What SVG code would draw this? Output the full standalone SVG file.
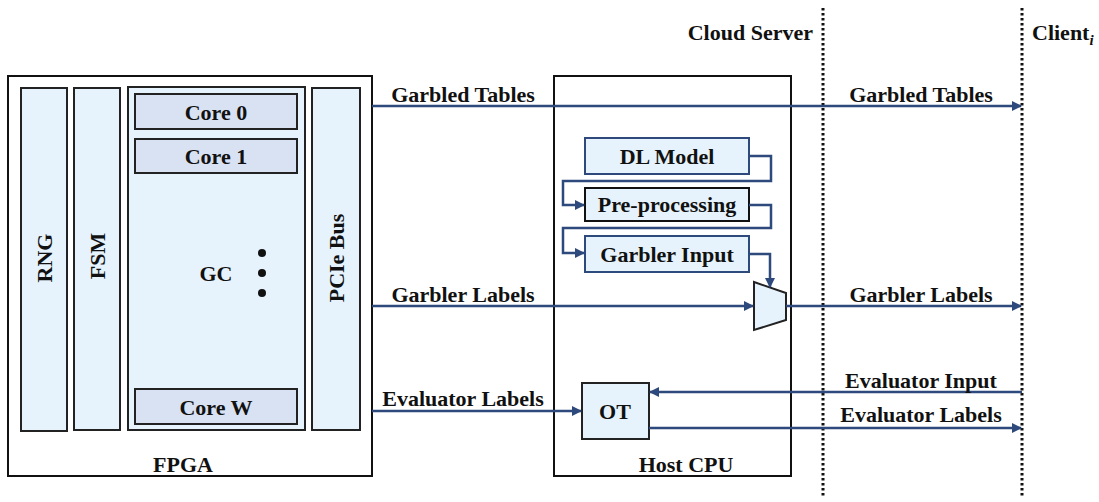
<svg xmlns="http://www.w3.org/2000/svg" width="1099" height="502" viewBox="0 0 1099 502">
<style>
text{font-family:"Liberation Serif","Times New Roman",serif;font-weight:bold;font-size:22px;fill:#111}
.box{fill:#fff;stroke:#111;stroke-width:2}
.blk{fill:#e6f3fd;stroke:#222;stroke-width:2}
.core{fill:#d9e2f3;stroke:#222;stroke-width:2}
.conn{fill:none;stroke:#2e4a7d;stroke-width:2.5}
.dot{fill:none;stroke:#111;stroke-width:3;stroke-dasharray:2.5 2.5}
</style>
<defs>
<marker id="ah" viewBox="0 0 10 10" refX="9" refY="5" markerWidth="10" markerHeight="10" markerUnits="userSpaceOnUse" orient="auto">
<path d="M0,0 L10,5 L0,10 z" fill="#2e4a7d"/>
</marker>
</defs>
<g id="boundaries">
<line class="dot" x1="823" y1="8" x2="823" y2="498"/>
<line class="dot" x1="1022" y1="8" x2="1022" y2="498"/>
<text x="813" y="40" text-anchor="end">Cloud Server</text>
<text x="1032" y="40">Client<tspan font-style="italic" font-size="15" dy="5">i</tspan></text>
</g>
<g id="fpga">
<rect class="box" x="8" y="76" width="364" height="400"/>
<text x="183" y="472" text-anchor="middle">FPGA</text>
</g>
<g id="rng">
<rect class="blk" x="21" y="88" width="46" height="343"/>
<text transform="translate(52,258) rotate(-90)" text-anchor="middle">RNG</text>
</g>
<g id="fsm">
<rect class="blk" x="74" y="88" width="46" height="342"/>
<text transform="translate(105,256) rotate(-90)" text-anchor="middle">FSM</text>
</g>
<g id="gc">
<rect class="blk" x="128" y="87" width="177" height="343"/>
<text x="216" y="281" text-anchor="middle">GC</text>
<circle cx="262" cy="253" r="4" fill="#111"/>
<circle cx="262" cy="273" r="4" fill="#111"/>
<circle cx="262" cy="293" r="4" fill="#111"/>
</g>
<g id="core0">
<rect class="core" x="135" y="94" width="162" height="35"/>
<text x="216" y="120" text-anchor="middle">Core 0</text>
</g>
<g id="core1">
<rect class="core" x="135" y="139" width="162" height="34"/>
<text x="216" y="164" text-anchor="middle">Core 1</text>
</g>
<g id="corew">
<rect class="core" x="135" y="389" width="162" height="35"/>
<text x="216" y="415" text-anchor="middle">Core W</text>
</g>
<g id="pcie">
<rect class="blk" x="312" y="88" width="48" height="342"/>
<text transform="translate(344,258) rotate(-90)" text-anchor="middle">PCIe Bus</text>
</g>
<g id="hostcpu">
<rect class="box" x="554" y="76" width="237" height="400"/>
<text x="686" y="472" text-anchor="middle">Host CPU</text>
</g>
<g id="dlmodel">
<rect class="blk" x="585" y="138" width="164" height="36" style="stroke:#2e4a7d"/>
<text x="667" y="164" text-anchor="middle">DL Model</text>
</g>
<g id="preprocessing">
<rect class="blk" x="585" y="188" width="164" height="33" style="stroke:#111"/>
<text x="667" y="212" text-anchor="middle">Pre-processing</text>
</g>
<g id="garblerinput">
<rect class="blk" x="585" y="236" width="164" height="36" style="stroke:#2e4a7d"/>
<text x="667" y="262" text-anchor="middle">Garbler Input</text>
</g>
<g id="mux">
<path class="blk" d="M754,282 L786,293 L786,320 L754,330 Z"/>
</g>
<g id="ot">
<rect class="blk" x="582" y="383" width="67" height="56"/>
<text x="615" y="419" text-anchor="middle">OT</text>
</g>
<g id="connectors">
<path class="conn" d="M372,106 L1021,106" marker-end="url(#ah)"/>
<text x="463" y="102" text-anchor="middle">Garbled Tables</text>
<text x="921" y="102" text-anchor="middle">Garbled Tables</text>
<path class="conn" d="M372,306 L753,306" marker-end="url(#ah)"/>
<text x="463" y="302" text-anchor="middle">Garbler Labels</text>
<path class="conn" d="M786,306 L1021,306" marker-end="url(#ah)"/>
<text x="921" y="302" text-anchor="middle">Garbler Labels</text>
<path class="conn" d="M372,411 L581,411" marker-end="url(#ah)"/>
<text x="463" y="406" text-anchor="middle">Evaluator Labels</text>
<path class="conn" d="M1022,392 L650,392" marker-end="url(#ah)"/>
<text x="921" y="388" text-anchor="middle">Evaluator Input</text>
<path class="conn" d="M649,428 L1021,428" marker-end="url(#ah)"/>
<text x="921" y="422" text-anchor="middle">Evaluator Labels</text>
<path class="conn" d="M749,156 L771,156 L771,181 L563,181 L563,205 L584,205" marker-end="url(#ah)"/>
<path class="conn" d="M749,205 L771,205 L771,228 L563,228 L563,253 L584,253" marker-end="url(#ah)"/>
<path class="conn" d="M749,254 L770,254 L770,287" marker-end="url(#ah)"/>
</g>
</svg>
